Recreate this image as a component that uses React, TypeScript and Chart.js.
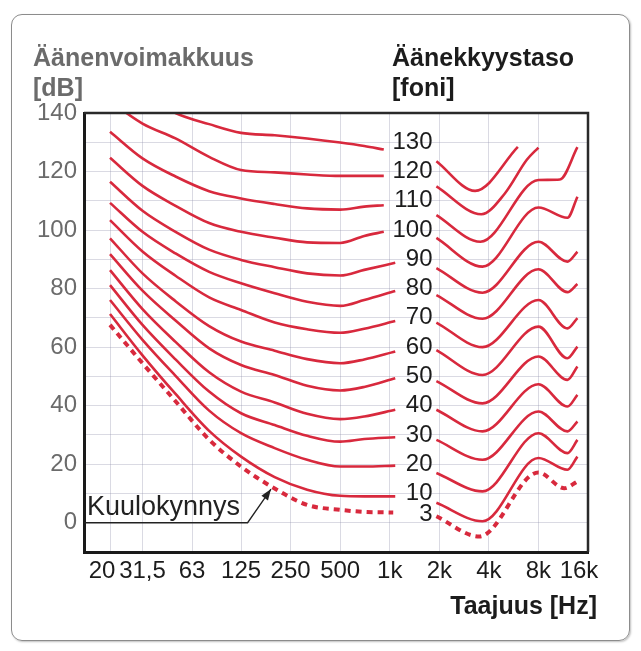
import React, { useEffect, useRef } from 'react';
import { Chart, registerables } from 'chart.js';

Chart.register(...registerables);

// ---- axis ticks ----
const tickFreqs = [20, 31.5, 63, 125, 250, 500, 1000, 2000, 4000, 8000, 16000];
const tickLabels = ['20', '31,5', '63', '125', '250', '500', '1k', '2k', '4k', '8k', '16k'];
const xMinFreq = 13.9;
const xMaxFreq = 16000;
const yMinDb = -10;
const yMaxDb = 140;

// ---- curves (phon levels) ----
const phonLevels = [130, 120, 110, 100, 90, 80, 70, 60, 50, 40, 30, 20, 10, 3];

// left part (low frequencies up to ~1 kHz)
const leftFreqs = [20, 31.5, 50, 80, 125, 200, 315, 500, 700];
const leftEndFreqs = [920, 920, 920, 920, 1080, 1080, 1080, 1080, 1080, 1080, 1080, 1080, 1080, 1050];

const left130 = [null, 147, 140, 136.2, 133.2, 132.4, 131.3, 129.9, 128.7, 127.5];
const left120 = [144, 136.4, 131.3, 125.0, 120.5, 119.7, 119.0, 118.5, 118.5, 118.5];
const left110 = [133.6, 124.5, 118.3, 113.3, 110.8, 108.9, 107.4, 107.0, 108.0, 108.5];
const left100 = [124.7, 115.1, 108.3, 102.4, 99.4, 97.4, 95.8, 95.6, 98.0, 99.4];
const left90 = [116.5, 106.6, 99.4, 93.3, 89.8, 87.3, 85.2, 84.5, 86.4, 88.8];
const left80 = [109.3, 99.4, 92.0, 85.7, 81.8, 78.4, 75.5, 74.1, 76.1, 79.2];
const left70 = [103.4, 92.7, 84.4, 77.0, 72.7, 68.4, 66.1, 64.9, 66.3, 68.9];
const left60 = [97.2, 85.2, 75.7, 67.2, 61.9, 58.8, 55.9, 54.5, 55.8, 58.5];
const left50 = [91.8, 79.3, 69.1, 59.6, 53.9, 50.5, 46.8, 45.2, 46.4, 49.4];
const left40 = [86.3, 73.0, 61.8, 51.4, 44.8, 41.1, 37.2, 35.4, 36.3, 38.6];
const left30 = [81.2, 67.6, 55.8, 44.8, 37.4, 33.4, 29.7, 27.7, 28.6, 29.2];
const left20 = [76.1, 62.5, 50.2, 38.3, 30.6, 25.5, 21.5, 19.2, 19.2, 19.5];
const left10 = [71.3, 57.2, 44.0, 31.4, 22.6, 15.6, 11.3, 9.2, 9.0, 9.0];
const left3 = [67.6, 54.5, 41.5, 28.4, 19.2, 11.7, 6.1, 4.4, 3.7, 3.5];

// right part (from ~2 kHz)
const rightFreqs = [1920, 3660, 8000, 12000, 13800];
const rightFreqs130 = [1920, 3300, 6000];
const rightFreqs120 = [1920, 3600, 5000, 6800, 8000];
const rightFreqs110 = [1920, 3550, 8000, 10800, 13800];
const rightFreqs3 = [1920, 3500, 8000, 11500, 13800];

const right130 = [123.5, 113.4, 128.4];
const right120 = [114.9, 105.4, 112.5, 124.0, 128.2];
const right110 = [105.1, 96.0, 117.1, 117.3, 128.3];
const right100 = [97.3, 87.5, 107.7, 104.2, 111.4];
const right90 = [87.0, 78.6, 96.0, 89.2, 92.6];
const right80 = [77.8, 69.7, 86.6, 78.8, 81.6];
const right70 = [68.4, 60.0, 76.1, 66.4, 69.9];
const right60 = [59.0, 50.5, 67.0, 56.2, 60.2];
const right50 = [48.4, 40.8, 56.8, 48.8, 53.4];
const right40 = [38.6, 31.2, 47.3, 39.7, 43.7];
const right30 = [28.3, 21.5, 38.0, 31.2, 34.6];
const right20 = [17.0, 10.7, 30.6, 23.8, 28.3];
const right10 = [6.8, 0.5, 22.1, 18.1, 22.6];
const right3 = [2.2, -4.7, 17.2, 11.8, 14.1];

const leftSeries = [left130, left120, left110, left100, left90, left80, left70, left60, left50, left40, left30, left20, left10, left3];
const rightSeries = [right130, right120, right110, right100, right90, right80, right70, right60, right50, right40, right30, right20, right10, right3];
const rightFreqSets = [rightFreqs130, rightFreqs120, rightFreqs110, rightFreqs, rightFreqs, rightFreqs, rightFreqs, rightFreqs, rightFreqs, rightFreqs, rightFreqs, rightFreqs, rightFreqs, rightFreqs3];

// annotations
const phonLabelFreq = 1820;
const thresholdLabel = 'Kuulokynnys';
const thresholdArrowFreq = 190;
const thresholdArrowDb = 11.5;
const thresholdElbowFreq = 137;

const RED = '#d8293d';
const FONT = '"Liberation Sans", Arial, Helvetica, sans-serif';

function buildDatasets() {
  const ds: any[] = [];
  phonLevels.forEach((p, i) => {
    const dotted = p === 3;
    const style = {
      borderColor: RED,
      borderWidth: dotted ? 4 : 2.6,
      borderDash: dotted ? [6, 5] : [],
      borderCapStyle: 'butt',
      pointRadius: 0,
      fill: false,
      cubicInterpolationMode: 'monotone',
    };
    const lv = leftSeries[i];
    const leftPts: any[] = [];
    leftFreqs.forEach((f, j) => {
      if (lv[j] !== null) leftPts.push({ x: f, y: lv[j] });
    });
    leftPts.push({ x: leftEndFreqs[i], y: lv[lv.length - 1] });
    ds.push({ label: p + ' left', data: leftPts, ...style });
    const rv = rightSeries[i];
    const rf = rightFreqSets[i];
    ds.push({ label: p + ' right', data: rf.map((f, j) => ({ x: f, y: rv[j] })), ...style });
  });
  return ds;
}

const decorPlugin = {
  id: 'decor',
  afterDraw(chart: any) {
    const { ctx, chartArea, scales } = chart;
    const xs = scales.x;
    const ys = scales.y;
    ctx.save();
    // top & right frame of the plot
    ctx.strokeStyle = '#2a2a2a';
    ctx.lineWidth = 2.5;
    ctx.beginPath();
    ctx.moveTo(chartArea.left, chartArea.top);
    ctx.lineTo(chartArea.right, chartArea.top);
    ctx.lineTo(chartArea.right, chartArea.bottom);
    ctx.stroke();

    // x tick labels
    ctx.font = '24px ' + FONT;
    ctx.fillStyle = '#1c1c1c';
    ctx.textAlign = 'center';
    ctx.textBaseline = 'middle';
    tickFreqs.forEach((f, i) => {
      let px = xs.getPixelForValue(f);
      if (i === 0) px -= 8;
      if (i === tickFreqs.length - 1) px -= 9;
      ctx.fillText(tickLabels[i], px, chartArea.bottom + 19);
    });

    // titles
    ctx.textBaseline = 'alphabetic';
    ctx.textAlign = 'left';
    ctx.font = 'bold 25px ' + FONT;
    ctx.fillStyle = '#6b6b6b';
    ctx.fillText('Äänenvoimakkuus', 33, 66);
    ctx.fillText('[dB]', 33, 96);
    ctx.fillStyle = '#1c1c1c';
    ctx.fillText('Äänekkyystaso', 392, 66);
    ctx.fillText('[foni]', 392, 96);
    ctx.textAlign = 'right';
    ctx.font = 'bold 25px ' + FONT;
    ctx.fillText('Taajuus [Hz]', 597, 614);

    // phon labels
    ctx.font = '24px ' + FONT;
    ctx.textBaseline = 'middle';
    ctx.textAlign = 'right';
    ctx.fillStyle = '#1c1c1c';
    const lx = xs.getPixelForValue(phonLabelFreq);
    phonLevels.forEach((p) => {
      ctx.fillText(String(p), lx, ys.getPixelForValue(p));
    });

    // threshold annotation
    const y0 = ys.getPixelForValue(0);
    const ex = xs.getPixelForValue(thresholdElbowFreq);
    const tx = xs.getPixelForValue(thresholdArrowFreq);
    const ty = ys.getPixelForValue(thresholdArrowDb);
    ctx.textAlign = 'left';
    ctx.textBaseline = 'alphabetic';
    ctx.font = '27px ' + FONT;
    ctx.fillStyle = '#222';
    ctx.fillText(thresholdLabel, chartArea.left + 3, y0 - 8);
    ctx.strokeStyle = '#222';
    ctx.lineWidth = 1.3;
    ctx.beginPath();
    ctx.moveTo(chartArea.left, y0);
    ctx.lineTo(ex, y0);
    ctx.lineTo(tx, ty);
    ctx.stroke();
    const ang = Math.atan2(ty - y0, tx - ex);
    const len = 11;
    const w = 4;
    ctx.beginPath();
    ctx.moveTo(tx, ty);
    ctx.lineTo(tx - len * Math.cos(ang) + w * Math.sin(ang), ty - len * Math.sin(ang) - w * Math.cos(ang));
    ctx.lineTo(tx - len * Math.cos(ang) - w * Math.sin(ang), ty - len * Math.sin(ang) + w * Math.cos(ang));
    ctx.closePath();
    ctx.fillStyle = '#222';
    ctx.fill();
    ctx.restore();
  },
};

export default function App() {
  const ref = useRef<HTMLCanvasElement | null>(null);
  useEffect(() => {
    if (!ref.current) return;
    const chart = new Chart(ref.current, {
      type: 'line',
      data: { datasets: buildDatasets() },
      options: {
        animation: false,
        responsive: false,
        maintainAspectRatio: false,
        devicePixelRatio: 1,
        layout: { padding: { left: 0, top: 113, right: 53, bottom: 0 } },
        plugins: { legend: { display: false }, tooltip: { enabled: false } },
        elements: { point: { radius: 0 } },
        scales: {
          x: {
            type: 'logarithmic',
            min: xMinFreq,
            max: xMaxFreq,
            afterBuildTicks: (s: any) => {
              s.ticks = tickFreqs.map((v) => ({ value: v }));
            },
            afterFit: (s: any) => {
              s.height = 99;
            },
            ticks: {
              display: false,
              autoSkip: false,
              maxRotation: 0,
              minRotation: 0,
              callback: (_v: any, i: number) => tickLabels[i],
            },
            grid: { color: 'rgba(150,150,175,0.35)', lineWidth: 1, drawTicks: false },
            border: { display: true, color: '#1a1a1a', width: 3 },
          },
          y: {
            min: yMinDb,
            max: yMaxDb,
            afterFit: (s: any) => {
              s.width = 84;
            },
            ticks: {
              stepSize: 10,
              autoSkip: false,
              padding: 7,
              color: '#6b6b6b',
              font: { family: FONT, size: 24 },
              callback: (v: any) => (v >= 0 && v % 20 === 0 ? String(v) : ''),
            },
            grid: { color: 'rgba(150,150,175,0.35)', lineWidth: 1, drawTicks: false },
            border: { display: true, color: '#1a1a1a', width: 3 },
          },
        },
      },
      plugins: [decorPlugin],
    } as any);
    return () => chart.destroy();
  }, []);

  return (
    <div style={{ position: 'fixed', left: 0, top: 0, width: 641, height: 651, background: '#fff' }}>
      <div
        style={{
          position: 'absolute',
          left: 11,
          top: 14,
          width: 617,
          height: 625,
          border: '1.5px solid #8c8c8c',
          borderRadius: 11,
          boxShadow: '1px 1px 2px rgba(0,0,0,0.25)',
        }}
      />
      <canvas ref={ref} width={641} height={651} style={{ position: 'absolute', left: 0, top: 0, width: 641, height: 651 }} />
    </div>
  );
}
